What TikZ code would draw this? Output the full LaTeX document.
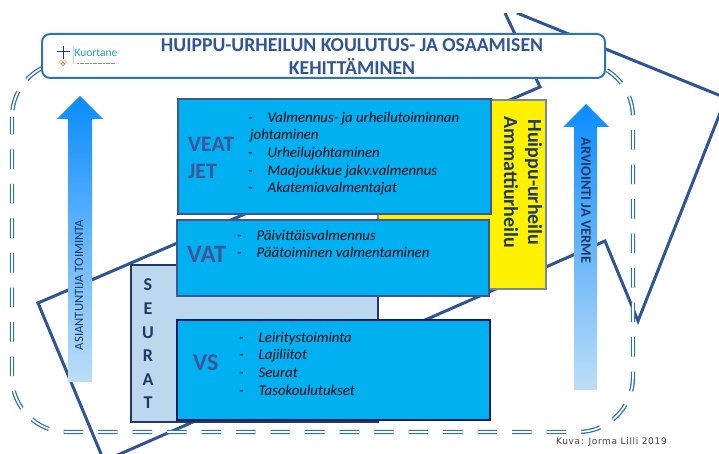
\documentclass[tikz,border=0pt]{standalone}
\usepackage{fontspec}
\setmainfont{Carlito}
\newfontfamily\creditfont[LetterSpace=7.3]{DejaVu Sans}
\usetikzlibrary{positioning}
\definecolor{titleblue}{HTML}{2F5597}
\definecolor{framblue}{HTML}{2E75B6}
\definecolor{starblue}{HTML}{2F5597}
\definecolor{boxblue}{HTML}{00B0F0}
\definecolor{navy}{HTML}{1F3864}
\definecolor{deepnavy}{HTML}{002060}
\definecolor{paleblue}{HTML}{BDD7EE}
\definecolor{abbrev}{HTML}{3F5597}
\definecolor{arrowtop}{HTML}{0A8CFF}
\definecolor{arrowlow}{HTML}{BEDEF7}
\tikzset{
    block/.style={
           rectangle,
           draw=abbrev, line width=2pt,
           fill=boxblue,
           inner sep=0pt,
           },
    abbr/.style={
           text=abbrev,
           inner sep=0pt,
           align=left,
           anchor=base west,
           },
    listing/.style={
           font=\fontsize{14.8}{17.7}\selectfont\itshape,
           text=black!85!navy,
           inner sep=0pt,
           anchor=north west,
           },
    arrowtext/.style={
           text=navy,
           inner sep=0pt,
           },
    arrowshade/.style={
           top color=arrowtop,
           middle color=arrowtop!95!cyan,
           bottom color=arrowlow,
           },
}
\begin{document}
\begin{tikzpicture}[x=1pt,y=-1pt]
        \useasboundingbox (0,0) rectangle (719,454);

        % STAR behind everything, cut off at the top
        \draw[starblue, line width=3pt, line join=miter]
            (517,13) -- (726,98) -- (638,321) -- (605,241) -- (104,461)
            -- (38,303) -- (540,87) -- (505,13);
        \fill[white] (0,0) rectangle (719,13);

        % DASHED FRAME
        \draw[framblue, line width=1.3pt, double=white, double distance=1.7pt,
            dash pattern=on 19.5pt off 15pt, dash phase=2pt, rounded corners=55pt]
            (12,62) rectangle (633,432);

        % TITLE
        \node[rectangle, rounded corners=8pt, draw=framblue, line width=2pt, fill=white,
            minimum width=563pt, minimum height=44pt, inner sep=0pt] (TITLE) at (323.5,56) {};
        \node[text=titleblue, align=center, inner sep=0pt,
            font=\fontsize{19.7}{23}\selectfont\bfseries] (TITLE_TEXT) at (352,56.5)
            {HUIPPU-URHEILUN KOULUTUS- JA OSAAMISEN\\KEHITTÄMINEN};

        % LOGO
        \draw[navy, line width=1pt] (63,46) -- (63,59) (57,52) -- (70,52);
        \draw[paleblue, line width=0.5pt] (73,47) -- (73,64);
        \node[text=framblue!70!cyan, inner sep=0pt, font=\fontsize{11.5}{12}\selectfont] (LOGO) at (96,53) {Kuortane};
        \draw[black!45, line width=1pt, dash pattern=on 2pt off 0.6pt] (77,63.5) -- (116,63.5);
        \draw[line width=0.3pt, orange] (61,62) circle (1.7pt) (65,62) circle (1.7pt);
        \draw[line width=0.3pt, green!50!black] (63,64) circle (1.7pt);

        % ARROWS
        \shade[arrowshade]
            (80,96) -- (103,119) -- (92,119) -- (92,382) -- (68,382) -- (68,119) -- (57,119) -- cycle;
        \shade[arrowshade]
            (586,104) -- (609,127) -- (597,127) -- (597,390) -- (574,390) -- (574,127) -- (563,127) -- cycle;
        \node[arrowtext, rotate=90, font=\fontsize{12.7}{14}\selectfont] (ASIANTUNTIJA) at (79,285) {ASIANTUNTIJA TOIMINTA};
        \node[arrowtext, rotate=-90, font=\fontsize{14.4}{15}\selectfont\bfseries] (ARVIOINTI) at (586,200.5) {ARVIOINTI JA VERME};

        % YELLOW BOX
        \node[rectangle, draw=black!35!paleblue!70!gray, line width=2.5pt, fill=yellow,
            minimum width=168pt, minimum height=189pt, inner sep=0pt] (AMMATTI) at (462,194.5) {};
        \node[text=navy, align=center, rotate=-90, inner sep=0pt,
            font=\fontsize{20}{24}\selectfont\bfseries] (AMMATTI_TEXT) at (523,182.5)
            {Huippu-urheilu\\Ammattiurheilu};

        % SEURAT
        \node[rectangle, draw=navy, line width=2pt, fill=paleblue,
            minimum width=247pt, minimum height=157pt, inner sep=0pt] (SEURAT) at (254.5,343.5) {};
        \node[text=navy, align=center, inner sep=0pt,
            font=\fontsize{18}{23.6}\selectfont\bfseries] (SEURAT_TEXT) at (148,344)
            {S\\E\\U\\R\\A\\T};

        % VEAT JET
        \node[block, minimum width=313pt, minimum height=115pt] (VEAT) at (334.5,156.5) {};
        \node[abbr, font=\fontsize{22}{27}\selectfont\bfseries] (VEAT_TEXT) at (188,179) {VEAT\\JET};
        \node[listing] (VEAT_LIST) at (248,109.6)
        {\begin{tabular}{@{}l@{\hspace{15pt}}l@{}}
            -&Valmennus- ja urheilutoiminnan\\
            \multicolumn{2}{@{\hspace{2pt}}l}{johtaminen}\\
            -&Urheilujohtaminen\\
            -&Maajoukkue jakv.valmennus\\
            -&Akatemiavalmentajat
        \end{tabular}};

        % VAT
        \node[block, below of=VEAT, node distance=101.5pt, xshift=-1.5pt,
            minimum width=312pt, minimum height=76pt] (VAT) {};
        \node[abbr, font=\fontsize{25}{30}\selectfont\bfseries] (VAT_TEXT) at (187,262) {VAT};
        \node[listing] (VAT_LIST) at (237,227.6)
        {\begin{tabular}{@{}l@{\hspace{15pt}}l@{}}
            -&Päivittäisvalmennus\\
            -&Päätoiminen valmentaminen
        \end{tabular}};

        % VS
        \node[block, draw=deepnavy, below of=VAT, node distance=112pt,
            minimum width=313pt, minimum height=100pt] (VS) {};
        \node[abbr, font=\fontsize{24}{29}\selectfont\bfseries] (VS_TEXT) at (193,370) {VS};
        \node[listing] (VS_LIST) at (239,329.6)
        {\begin{tabular}{@{}l@{\hspace{15pt}}l@{}}
            -&Leiritystoiminta\\
            -&Lajiliitot\\
            -&Seurat\\
            -&Tasokoulutukset
        \end{tabular}};

        % CREDIT
        \node[text=black!75, inner sep=0pt, anchor=west,
            font=\creditfont\fontsize{9}{10}\selectfont] (CREDIT) at (556,442) {Kuva: Jorma Lilli 2019};
\end{tikzpicture}
\end{document}
